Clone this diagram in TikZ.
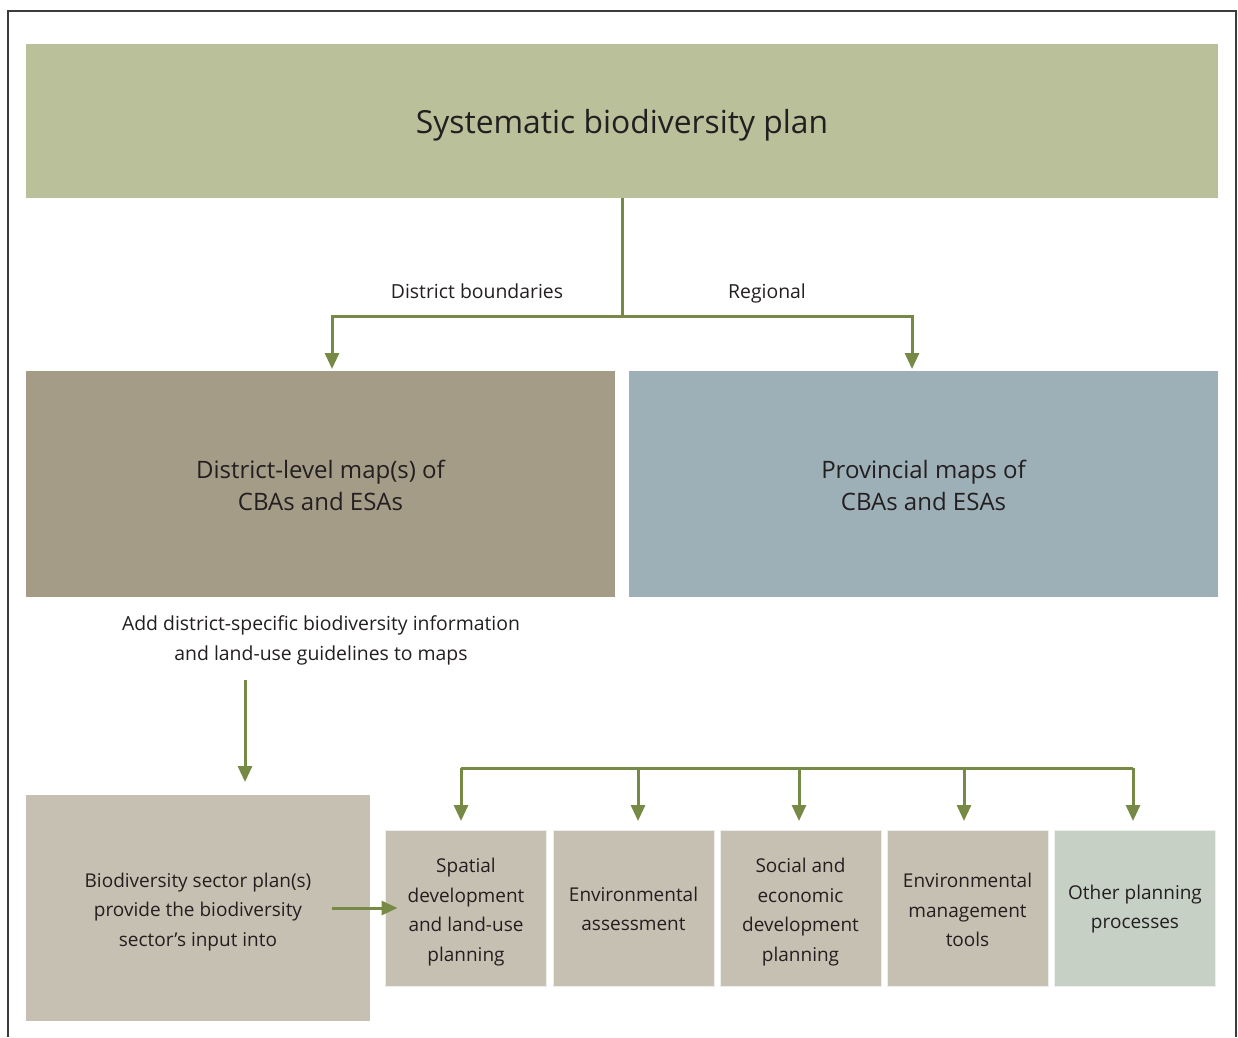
\documentclass[tikz,border=0pt]{standalone}
\usepackage{fontspec}
\setmainfont{Open Sans}
\usetikzlibrary{arrows.meta}
\definecolor{titlefill}{RGB}{186,192,154}
\definecolor{distfill}{RGB}{165,156,135}
\definecolor{provfill}{RGB}{157,176,183}
\definecolor{sectfill}{RGB}{198,192,178}
\definecolor{otherfill}{RGB}{199,208,197}
\definecolor{arrowc}{RGB}{118,138,70}
\definecolor{txt}{RGB}{35,31,32}
\definecolor{framec}{RGB}{60,60,60}
\tikzset{
  box/.style={rectangle, inner sep=0pt, outer sep=0pt},
  smallbox/.style={box, fill=sectfill, draw=black!7, line width=1pt, minimum width=161pt, minimum height=156pt},
  txtn/.style={text=txt, align=center, inner sep=0pt},
  smalltxt/.style={txtn, font=\fontsize{19}{29.5}\selectfont},
  bigtxt/.style={txtn, font=\fontsize{24}{32}\selectfont},
  link/.style={draw=arrowc, line width=3pt},
  arr/.style={link, -{Triangle[width=14pt,length=16pt]}},
  lbl/.style={txtn, font=\fontsize{19.4}{30}\selectfont}
}
\begin{document}
\begin{tikzpicture}[x=1pt,y=-1pt]
\useasboundingbox (0,0) rectangle (1238,1037);
% frame
\draw[framec, line width=2pt] (8,1037) -- (8,11) -- (1236,11) -- (1236,1037);
% boxes
\node[box, fill=titlefill, minimum width=1192pt, minimum height=154pt] (title) at (622,121) {};
\node[box, fill=distfill, minimum width=589pt, minimum height=226pt] (dist) at (320.5,484) {};
\node[box, fill=provfill, minimum width=589pt, minimum height=226pt] (prov) at (923.5,484) {};
\node[box, fill=sectfill, minimum width=344pt, minimum height=226pt] (bio) at (198,908) {};
\node[smallbox] (s1) at (466,908) {};
\node[smallbox] (s2) at (633.5,908) {};
\node[smallbox] (s3) at (800.5,908) {};
\node[smallbox] (s4) at (967.5,908) {};
\node[smallbox, fill=otherfill] (s5) at (1135,908) {};
% box texts
\node[txtn, font=\fontsize{31.8}{36}\selectfont] (titlet) at ([yshift=-4pt]title.center) {Systematic biodiversity plan};
\node[bigtxt] (distt) at ([yshift=-1pt]dist.center) {District-level map(s) of\\CBAs and ESAs};
\node[bigtxt] (provt) at ([yshift=-1pt]prov.center) {Provincial maps of\\CBAs and ESAs};
\node[smalltxt] (biot) at ([yshift=-4pt]bio.center) {Biodiversity sector plan(s)\\provide the biodiversity\\sector’s input into};
\node[smalltxt] (s1t) at ([yshift=-4pt]s1.center) {Spatial\\development\\and land-use\\planning};
\node[smalltxt] (s2t) at ([yshift=-1pt]s2.center) {Environmental\\assessment};
\node[smalltxt] (s3t) at ([yshift=-4pt]s3.center) {Social and\\economic\\development\\planning};
\node[smalltxt] (s4t) at ([yshift=-2pt]s4.center) {Environmental\\management\\tools};
\node[smalltxt] (s5t) at ([yshift=-1pt]s5.center) {Other planning\\processes};
% labels
\node[lbl, anchor=base] (lb1) at (477,298.5) {District boundaries};
\node[lbl, anchor=base] (lb2) at (767,298.5) {Regional};
\node[lbl] (note) at (321,640) {Add district-specific biodiversity information\\and land-use guidelines to maps};
% top connectors
\coordinate (split) at (622,316);
\coordinate (dl) at (332,316);
\coordinate (dr) at (912,316);
\draw[link] (title.south) -- (split);
\draw[arr, shorten >=2pt] (split) -- (dl) -- (dl |- dist.north);
\draw[arr, shorten >=2pt] (split) -- (dr) -- (dr |- prov.north);
% note to sector plan
\coordinate (n1) at (245,680);
\draw[arr, shorten >=13pt] (n1) -- (n1 |- bio.north);
% sector plan to spatial
\coordinate (h1) at (332,908);
\draw[arr, shorten >=-12pt] (h1) -- (h1 -| s1.west);
% bus
\coordinate (t1) at (461,768);
\coordinate (t2) at (638,768);
\coordinate (t3) at (799,768);
\coordinate (t4) at (964,768);
\coordinate (t5) at (1133,768);
\draw[link] (t1) -- (t5);
\draw[arr, shorten >=9pt] (t1) -- (t1 |- s1.north);
\draw[arr, shorten >=9pt] (t2) -- (t2 |- s2.north);
\draw[arr, shorten >=9pt] (t3) -- (t3 |- s3.north);
\draw[arr, shorten >=9pt] (t4) -- (t4 |- s4.north);
\draw[arr, shorten >=9pt] (t5) -- (t5 |- s5.north);
\end{tikzpicture}
\end{document}
